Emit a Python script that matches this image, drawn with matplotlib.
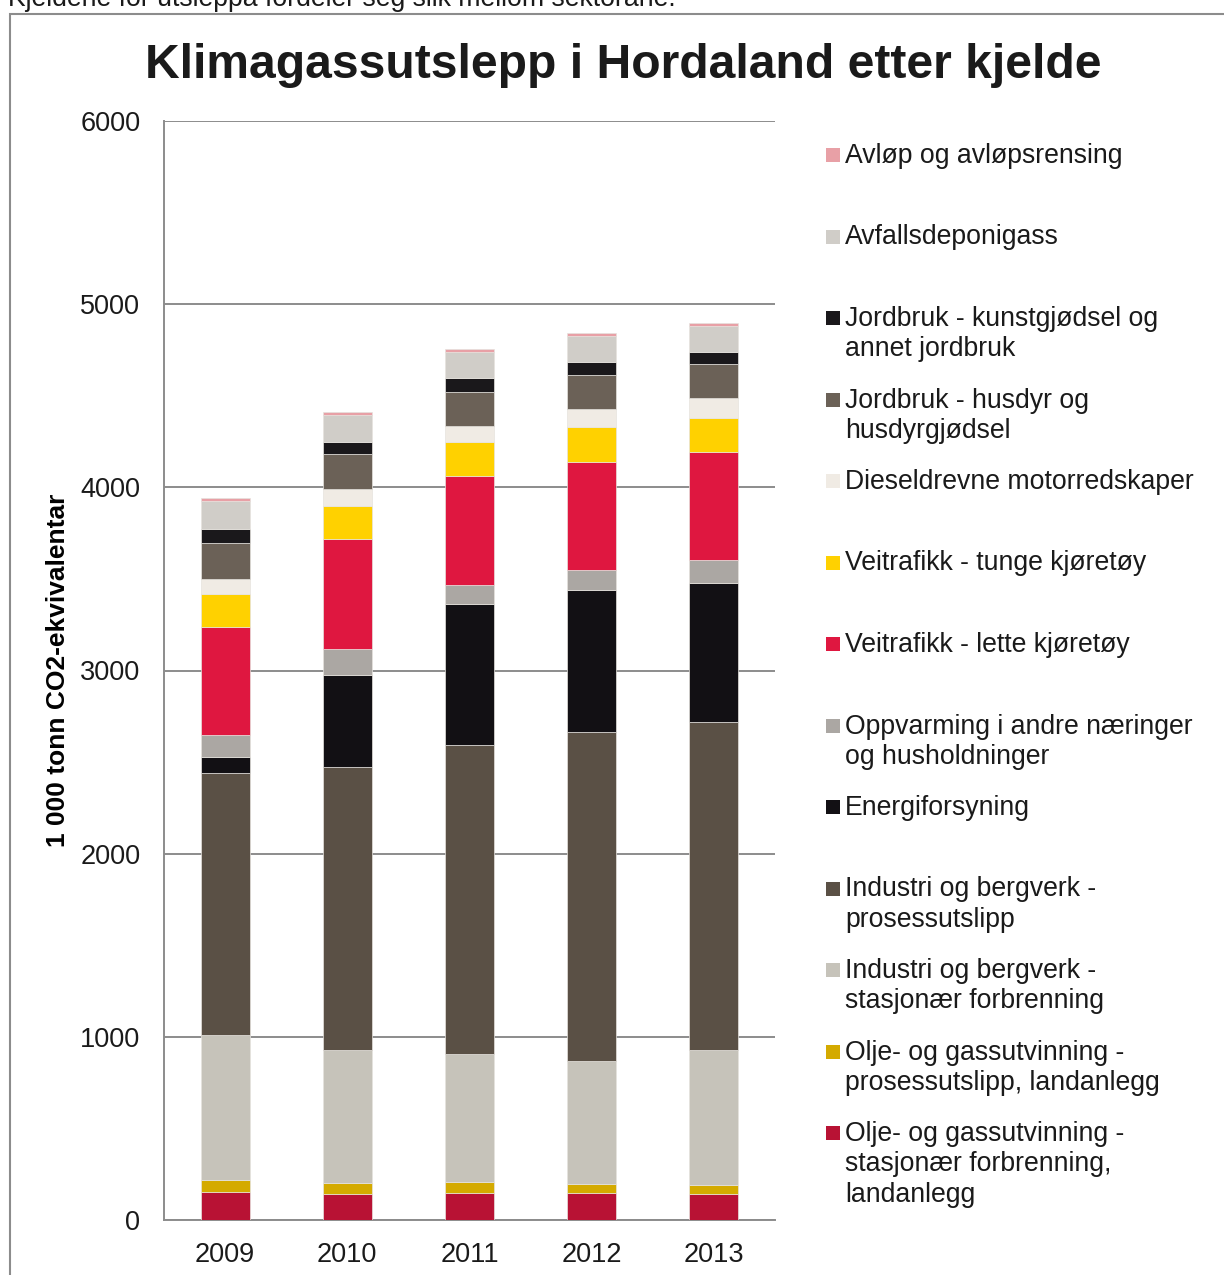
import matplotlib
matplotlib.use("Agg")
import matplotlib.pyplot as plt
from matplotlib.patches import Rectangle
import numpy as np

plt.rcParams['font.family'] = ['Liberation Sans', 'DejaVu Sans']

years = ['2009', '2010', '2011', '2012', '2013']

# sectors, bottom to top
sectors = [
    'Olje- og gassutvinning -\nstasjonær forbrenning,\nlandanlegg',
    'Olje- og gassutvinning -\nprosessutslipp, landanlegg',
    'Industri og bergverk -\nstasjonær forbrenning',
    'Industri og bergverk -\nprosessutslipp',
    'Energiforsyning',
    'Oppvarming i andre næringer\nog husholdninger',
    'Veitrafikk - lette kjøretøy',
    'Veitrafikk - tunge kjøretøy',
    'Dieseldrevne motorredskaper',
    'Jordbruk - husdyr og\nhusdyrgjødsel',
    'Jordbruk - kunstgjødsel og\nannet jordbruk',
    'Avfallsdeponigass',
    'Avløp og avløpsrensing',
]

olje_stasjonaer = [155, 140, 149, 149, 144]
olje_prosess = [63, 64, 60, 49, 49]
industri_stasjonaer = [792, 724, 697, 670, 735]
industri_prosess = [1432, 1545, 1689, 1796, 1791]
energiforsyning = [88, 501, 766, 775, 759]
oppvarming = [120, 142, 106, 110, 124]
veitrafikk_lette = [589, 600, 595, 591, 591]
veitrafikk_tunge = [180, 180, 185, 188, 185]
diesel = [82, 93, 88, 100, 110]
husdyr = [197, 193, 187, 185, 185]
kunstgjodsel = [73, 67, 73, 70, 68]
avfall = [156, 146, 146, 145, 140]
avlop = [15, 16, 14, 15, 15]

series = [olje_stasjonaer, olje_prosess, industri_stasjonaer, industri_prosess,
          energiforsyning, oppvarming, veitrafikk_lette, veitrafikk_tunge,
          diesel, husdyr, kunstgjodsel, avfall, avlop]

colors = ['#B81234', '#D4AA00', '#C6C3BA', '#5A5045', '#121014', '#ABA7A3',
          '#DF1740', '#FFD100', '#F0EBE4', '#6B6157', '#1A181B', '#D0CDC8',
          '#E8A0A6']

W, H = 1224, 1275
fig = plt.figure(figsize=(W / 100, H / 100), dpi=100)

# axes in pixel box: left 164, right 775, top 121, bottom 1220
ax = fig.add_axes([164 / W, 1 - 1220 / H, (775 - 164) / W, (1220 - 121) / H])

x = np.arange(len(years))
bottom = np.zeros(len(years))
for vals, c in zip(series, colors):
    ax.bar(x, vals, width=0.4, bottom=bottom, color=c, edgecolor='#e6e3de',
           linewidth=0.5, zorder=3)
    bottom += np.array(vals)

ax.set_xlim(-0.5, 4.5)
ax.set_ylim(0, 6000)
ax.set_yticks(range(0, 6001, 1000))
ax.set_xticks(x)
ax.set_xticklabels(years)
ax.tick_params(axis='both', length=0, labelsize=19.5, colors='#1a1a1a')
ax.tick_params(axis='y', pad=17)
ax.tick_params(axis='x', pad=15.5)
ax.grid(axis='y', color='#8c8c8c', linewidth=1.4, zorder=0)
for s in ['top', 'right']:
    ax.spines[s].set_visible(False)
for s in ['left', 'bottom']:
    ax.spines[s].set_color('#8c8c8c')
    ax.spines[s].set_linewidth(1.4)
ax.set_ylabel('1 000 tonn CO2-ekvivalentar', fontsize=19, fontweight='bold',
              labelpad=7)

# outer frame
fig.add_artist(Rectangle((9.5 / W, -0.1), 1.2, 1 - 13.5 / H + 0.1,
                         transform=fig.transFigure, fill=False,
                         edgecolor='#8c8c8c', linewidth=1.5))

fig.text(8 / W, 1 - 6 / H, 'Kjeldene for utsleppa fordeler seg slik mellom sektorane.',
         fontsize=19.2, ha='left', va='baseline', color='#1a1a1a')

fig.text(623 / W, 1 - 66 / H, 'Klimagassutslepp i Hordaland etter kjelde',
         fontsize=34.6, fontweight='bold', ha='center', va='center', color='#1a1a1a')

# legend, top entry first
for i, (lab, c) in enumerate(zip(sectors[::-1], colors[::-1])):
    yc = 155 + i * 81.5
    fig.add_artist(Rectangle((826 / W, 1 - (yc + 7) / H), 14 / W, 14 / H,
                             transform=fig.transFigure, facecolor=c,
                             edgecolor='none'))
    fig.text(845 / W, 1 - (yc - 12) / H, lab, fontsize=19.2, ha='left', va='top',
             linespacing=1.22, color='#1a1a1a')

fig.savefig('out.png', dpi=100)
